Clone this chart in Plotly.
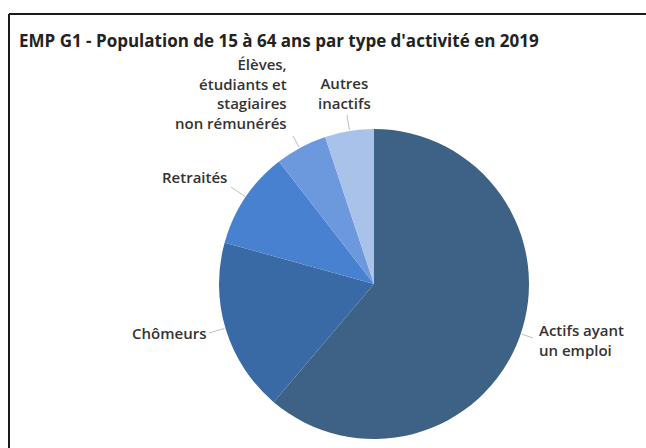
import math
import plotly.graph_objects as go

# ---- data ----
categories = ["Actifs ayant un emploi", "Chômeurs", "Retraités",
              "Élèves, étudiants et stagiaires non rémunérés", "Autres inactifs"]
label_texts = ["Actifs ayant<br>un emploi", "Chômeurs", "Retraités",
               "Élèves,<br>étudiants et<br>stagiaires<br>non rémunérés", "Autres<br>inactifs"]
values = [61.2, 18.1, 10.2, 5.4, 5.1]
colors = ["#3e6286", "#3a6aa6", "#4881cf", "#6c99dd", "#a9c2ea"]
title = "EMP G1 - Population de 15 à 64 ans par type d'activité en 2019"

# ---- layout constants (pixels) ----
W, H = 646, 448
CX, CY, R = 374, 284, 155

def px(x):
    return x / W

def py(y):
    return 1 - y / H

fig = go.Figure(go.Pie(
    labels=categories,
    values=values,
    sort=False,
    direction="clockwise",
    rotation=0,
    marker=dict(colors=colors, line=dict(width=0)),
    textinfo="none",
    hoverinfo="label+percent",
    showlegend=False,
    domain=dict(x=[px(CX - R), px(CX + R)], y=[py(CY + R), py(CY - R)]),
))

# label placement: (x, y, xanchor, yanchor, align, leader start x, leader start y)
label_pos = [
    (537, 340, "left", "middle", "left", 533, 338),
    (208, 333, "right", "middle", "right", 209, 333),
    (229, 177, "right", "middle", "right", 231, 187),
    (289, 93, "right", "middle", "right", 293, 136),
    (345, 93, "center", "middle", "center", 347, 115),
]

annotations = [dict(
    text="<b>" + title + "</b>", x=px(17), y=py(40), xref="paper", yref="paper",
    xanchor="left", yanchor="middle", showarrow=False,
    font=dict(family="Open Sans", size=17, color="#222222"),
)]
shapes = []
for txt, (lx, ly, xa, ya, al, sx, sy) in zip(label_texts, label_pos):
    annotations.append(dict(
        text=txt, x=px(lx), y=py(ly), xref="paper", yref="paper",
        xanchor=xa, yanchor=ya, align=al, showarrow=False,
        font=dict(family="Open Sans", size=15, color="#333333", weight=600),
    ))
    dx, dy = sx - CX, sy - CY
    d = math.hypot(dx, dy)
    ex, ey = CX + (R + 1) * dx / d, CY + (R + 1) * dy / d
    shapes.append(dict(type="line", xref="paper", yref="paper",
                       x0=px(sx), y0=py(sy), x1=px(ex), y1=py(ey),
                       line=dict(color="#bfbfbf", width=1)))

# frame (top and left edges visible)
shapes.append(dict(type="line", xref="paper", yref="paper",
                   x0=px(9), y0=py(14), x1=1.01, y1=py(14),
                   line=dict(color="#1a1a1a", width=2)))
shapes.append(dict(type="line", xref="paper", yref="paper",
                   x0=px(9), y0=py(14), x1=px(9), y1=-0.01,
                   line=dict(color="#1a1a1a", width=2)))

fig.update_layout(
    width=W, height=H, autosize=False,
    margin=dict(l=0, r=0, t=0, b=0),
    paper_bgcolor="white", plot_bgcolor="white",
    annotations=annotations, shapes=shapes,
)

fig.write_html("out.html")
